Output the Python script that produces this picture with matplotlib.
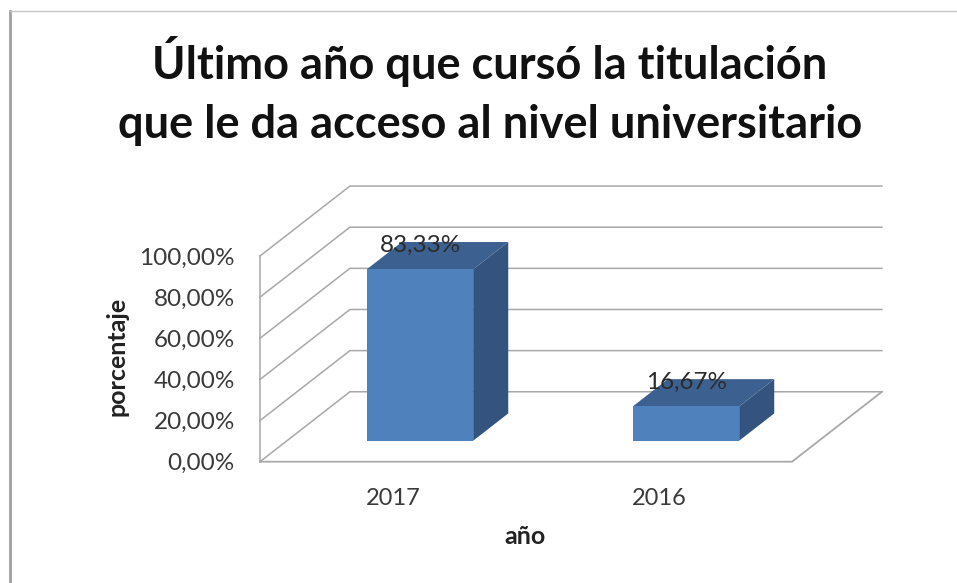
import matplotlib
matplotlib.use("Agg")
import matplotlib.pyplot as plt
from matplotlib.lines import Line2D
from matplotlib.patches import Polygon

plt.rcParams['font.family'] = ['Lato', 'DejaVu Sans']

# Chart data
YEARS = ['2017', '2016']
VALUES = [83.33, 16.67]
Y_TICKS = [0, 20, 40, 60, 80, 100]
Y_LABELS = ['0,00%', '20,00%', '40,00%', '60,00%', '80,00%', '100,00%']
BAR_LABELS = ['83,33%', '16,67%']
TITLE = 'Último año que cursó la titulación\nque le da acceso al nivel universitario'

W, H = 957, 583
GRID = '#a8a8a8'

# Depth of the fake 3D box, in data units per unit of depth
DEPTH_X = 0.338
DEPTH_Y = 34.0


def project(x, y, d):
    return x + DEPTH_X * d, y + DEPTH_Y * d


fig = plt.figure(figsize=(W / 100, H / 100), dpi=100, facecolor='white')
ax = fig.add_axes([260 / W, (H - 461.7) / H, 532 / W, 205.7 / H])
ax.set_xlim(0, 2)
ax.set_ylim(0, 100)
for s in ax.spines.values():
    s.set_visible(False)

# Picture border, left and top only
fig.add_artist(Line2D([9.5 / W, 9.5 / W], [0, (H - 11) / H], color='#a0a0a0', lw=2.0))
fig.add_artist(Line2D([9.5 / W, 1], [(H - 11) / H, (H - 11) / H], color='#c4c4c4', lw=1.0))

# Walls and floor
for t in Y_TICKS:
    x0, y0 = project(0, t, 0)
    x1, y1 = project(0, t, 1)
    x2, y2 = project(2, t, 1)
    ax.plot([x0, x1, x2], [y0, y1, y2], color=GRID, lw=1.1, clip_on=False, zorder=1)
ax.plot([0, 0], [0, 100], color=GRID, lw=1.1, clip_on=False, zorder=1)
ax.plot([0, 2, project(2, 0, 1)[0]], [0, 0, project(2, 0, 1)[1]], color=GRID, lw=1.3,
        clip_on=False, zorder=1)

# Bars, three faces each
BAR_W = 0.4
D0, D1 = 0.30, 0.69
for i, v in enumerate(VALUES):
    x_l = i + 0.5 - BAR_W / 2
    x_r = i + 0.5 + BAR_W / 2
    front = [project(x_l, 0, D0), project(x_r, 0, D0), project(x_r, v, D0), project(x_l, v, D0)]
    side = [project(x_r, 0, D0), project(x_r, 0, D1), project(x_r, v, D1), project(x_r, v, D0)]
    top = [project(x_l, v, D0), project(x_r, v, D0), project(x_r, v, D1), project(x_l, v, D1)]
    ax.add_patch(Polygon(side, closed=True, fc='#34547f', ec='none', clip_on=False, zorder=3))
    ax.add_patch(Polygon(top, closed=True, fc='#3c6090', ec='none', clip_on=False, zorder=3))
    ax.add_patch(Polygon(front, closed=True, fc='#4f81bd', ec='none', clip_on=False, zorder=3))
    lx, ly = project(i + 0.5, v, D0)
    ax.annotate(BAR_LABELS[i], (lx, ly), xytext=(0.5, 17), textcoords='offset points',
                ha='center', va='center', fontsize=17.5, color='#2b2b2b', zorder=4,
                annotation_clip=False)

# Axis text
ax.set_xticks([0.5, 1.5], YEARS)
ax.set_yticks(Y_TICKS, Y_LABELS)
ax.tick_params(length=0, labelcolor='#3a3a3a')
ax.tick_params(axis='x', labelsize=17, pad=19)
ax.tick_params(axis='y', labelsize=17.5, pad=18)
fig.text(525 / W, (H - 537) / H, 'año', ha='center', va='center', fontsize=18,
         fontweight='bold', color='#222222')
fig.text(117 / W, (H - 356) / H, 'porcentaje', ha='center', va='center', rotation=90,
         fontsize=18, fontweight='bold', color='#222222')
fig.text(490 / W, (H - 91) / H, TITLE, ha='center', va='center', fontsize=32.5,
         fontweight='bold', color='#111111', linespacing=1.5)

fig.savefig('out.png', dpi=100)
